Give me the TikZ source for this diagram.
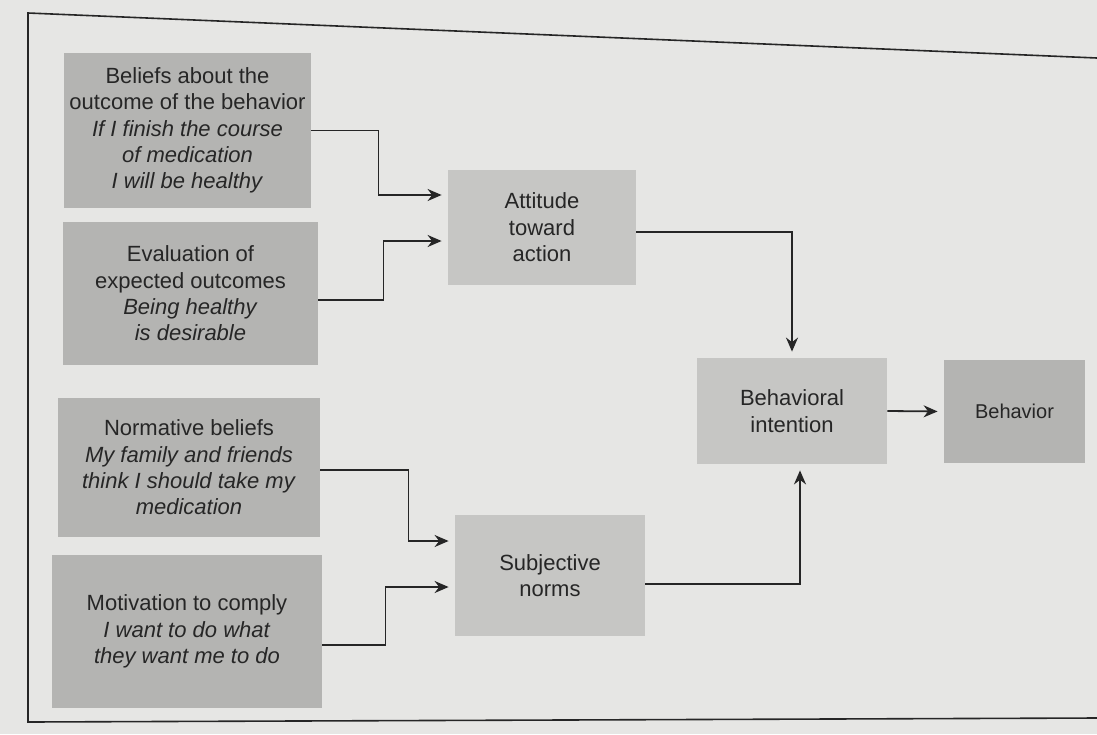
\documentclass[tikz,border=0pt]{standalone}
\usepackage{fontspec}
\setmainfont{Liberation Sans}
\usetikzlibrary{arrows.meta,positioning,calc}
\definecolor{paper}{HTML}{E6E6E4}
\definecolor{beliefgray}{HTML}{B4B4B2}
\definecolor{constructgray}{HTML}{C6C6C4}
\definecolor{inkdark}{HTML}{262626}
\tikzset{
  belief/.style={fill=beliefgray, minimum width=#1, align=center, inner sep=2pt,
    font=\fontsize{11}{13.2}\selectfont, text=inkdark},
  construct/.style={fill=constructgray, align=center, inner sep=2pt,
    font=\fontsize{11}{13.2}\selectfont, text=inkdark},
  flow/.style={-{Stealth[length=7pt,width=6pt]}, line width=0.9pt, color=inkdark,
    shorten >=3pt},
  frameline/.style={line width=0.8pt, color=inkdark},
}
\begin{document}
\begin{tikzpicture}[x=0.5pt,y=-0.5pt]
  \fill[paper] (0,0) rectangle (1097,734);
  \useasboundingbox (0,0) rectangle (1097,734);
  \draw[frameline] (1097,58) -- (28,13) -- (28,722) -- (1097,718);
  % belief boxes on the left
  \node[belief=123.5pt, minimum height=77.5pt] (outcome) at (187.5,130.5)
    {Beliefs about the\\outcome of the behavior\\\textit{If I finish the course}\\\textit{of medication}\\\textit{I will be healthy}};
  \node[belief=127.5pt, minimum height=71.5pt] (evaluation) at (190.5,293.5)
    {Evaluation of\\expected outcomes\\\textit{Being healthy}\\\textit{is desirable}};
  \node[belief=131pt, minimum height=69.5pt] (normative) at (189,467.5)
    {Normative beliefs\\\textit{My family and friends}\\\textit{think I should take my}\\\textit{medication}};
  \node[belief=135pt, minimum height=76.5pt] (motivation) at (187,631.5)
    {Motivation to comply\\\textit{I want to do what}\\\textit{they want me to do}};
  % constructs
  \node[construct, minimum width=94pt, minimum height=57.5pt] (attitude) at (542,227.5)
    {Attitude\\toward\\action};
  \node[construct, minimum width=95pt, minimum height=60.5pt] (norms) at (550,575.5)
    {Subjective\\norms};
  \node[construct, minimum width=95pt, minimum height=53pt] (intention) at (792,411)
    {Behavioral\\intention};
  \node[construct, fill=beliefgray, minimum width=70.5pt, minimum height=51.5pt,
    font=\fontsize{10}{12}\selectfont] (behavior) at (1014.5,411.5) {Behavior};
  % connectors
  \draw[flow] (outcome.east) -- ++(67,0) |- ($(attitude.west)+(0,-32.5)$);
  \draw[flow] ($(evaluation.east)+(0,6.5)$) -- ++(65,0) |- ($(attitude.west)+(0,13.5)$);
  \draw[flow] ($(normative.east)+(0,2.5)$) -- ++(88,0) |- ($(norms.west)+(0,-34.5)$);
  \draw[flow] ($(motivation.east)+(0,13.5)$) -- ++(63,0) |- ($(norms.west)+(0,11.5)$);
  \draw[flow] ($(attitude.east)+(0,4.5)$) -| (intention.north);
  \draw[flow] ($(norms.east)+(0,8.5)$) -| ($(intention.south)+(8,0)$);
  \draw[flow] (intention.east) -- (behavior.west);
\end{tikzpicture}
\end{document}
